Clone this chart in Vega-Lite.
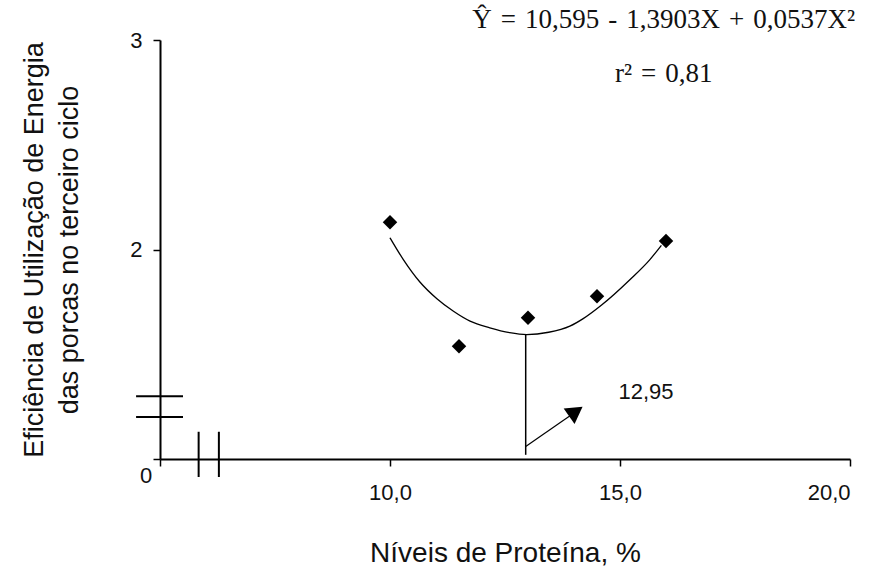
{
  "$schema": "https://vega.github.io/schema/vega-lite/v6.json",
  "width": 690,
  "height": 419,
  "autosize": {"type": "none"},
  "padding": {"left": 160, "top": 40, "right": 28, "bottom": 112},
  "background": "white",
  "config": {"view": {"stroke": null}, "font": "Liberation Sans"},
  "datasets": {
    "points": [
      {"x": 10, "y": 2.13},
      {"x": 11.5, "y": 1.538},
      {"x": 13, "y": 1.674},
      {"x": 14.5, "y": 1.777},
      {"x": 16, "y": 2.04}
    ],
    "curve": [
      {"x": 10.0, "y": 2.056},
      {"x": 10.29, "y": 1.952},
      {"x": 10.65, "y": 1.845},
      {"x": 11.02, "y": 1.765},
      {"x": 11.38, "y": 1.705},
      {"x": 11.74, "y": 1.658},
      {"x": 12.17, "y": 1.626},
      {"x": 12.6, "y": 1.603},
      {"x": 12.97, "y": 1.594},
      {"x": 13.45, "y": 1.605},
      {"x": 13.91, "y": 1.634},
      {"x": 14.2, "y": 1.67},
      {"x": 14.6, "y": 1.735},
      {"x": 15.22, "y": 1.857},
      {"x": 15.65, "y": 1.952},
      {"x": 15.9, "y": 2.02}
    ],
    "segments": [
      {"x": 12.95, "y": 1.594, "x2": 12.95, "y2": 1.02, "w": 1.5},
      {"x": 12.95, "y": 1.06, "x2": 14.0, "y2": 1.22, "w": 1.2}
    ],
    "breaks": [
      {"x": 4.48, "y": 1.3, "x2": 5.5, "y2": 1.3},
      {"x": 4.48, "y": 1.2, "x2": 5.5, "y2": 1.2},
      {"x": 5.84, "y": 1.13, "x2": 5.84, "y2": 0.914},
      {"x": 6.28, "y": 1.13, "x2": 6.28, "y2": 0.914}
    ]
  },
  "encoding": {
    "x": {
      "field": "x",
      "type": "quantitative",
      "scale": {"domain": [5, 20], "nice": false, "zero": false},
      "axis": {
        "values": [5, 10, 15, 20],
        "labelExpr": "datum.value == 5 ? '' : replace(format(datum.value, '.1f'), '.', ',')",
        "grid": false,
        "domainColor": "#000",
        "domainWidth": 2,
        "tickColor": "#000",
        "tickWidth": 1.5,
        "tickSize": 7,
        "labelFontSize": 22,
        "labelColor": "#111",
        "labelPadding": 16,
        "title": "Níveis de Proteína, %",
        "titleFontSize": 28,
        "titleFontWeight": "normal",
        "titleColor": "#111",
        "titlePadding": 36
      }
    },
    "y": {
      "field": "y",
      "type": "quantitative",
      "scale": {"domain": [1, 3], "nice": false, "zero": false},
      "axis": {
        "values": [1, 2, 3],
        "labelExpr": "datum.value == 1 ? '' : format(datum.value, 'd')",
        "grid": false,
        "domainColor": "#000",
        "domainWidth": 2,
        "tickColor": "#000",
        "tickWidth": 1.5,
        "tickSize": 7,
        "labelFontSize": 22,
        "labelColor": "#111",
        "labelPadding": 11,
        "title": ["Eficiência de Utilização de Energia", "das porcas no terceiro ciclo"],
        "titleFontSize": 27,
        "titleLineHeight": 35,
        "titleFontWeight": "normal",
        "titleColor": "#111",
        "titlePadding": 46
      }
    }
  },
  "layer": [
    {
      "data": {"name": "breaks"},
      "mark": {"type": "rule", "color": "#000", "strokeWidth": 2},
      "encoding": {"x2": {"field": "x2"}, "y2": {"field": "y2"}}
    },
    {
      "data": {"name": "curve"},
      "mark": {"type": "line", "color": "#000", "strokeWidth": 1.3, "interpolate": "monotone"},
      "encoding": {}
    },
    {
      "data": {"name": "segments"},
      "mark": {"type": "rule", "color": "#000"},
      "encoding": {
        "x2": {"field": "x2"},
        "y2": {"field": "y2"},
        "strokeWidth": {"field": "w", "type": "quantitative", "scale": null}
      }
    },
    {
      "data": {"values": [{"x": 14.04, "y": 1.227}]},
      "mark": {"type": "point", "shape": "triangle-up", "filled": true, "color": "#000", "size": 360, "angle": 55, "opacity": 1},
      "encoding": {}
    },
    {
      "data": {"name": "points"},
      "mark": {"type": "point", "shape": "diamond", "filled": true, "color": "#000", "size": 210, "opacity": 1},
      "encoding": {}
    },
    {
      "data": {"values": [{"x": 15.565, "y": 1.322, "t": "12,95"}]},
      "mark": {"type": "text", "fontSize": 22, "color": "#111", "align": "center", "baseline": "middle"},
      "encoding": {"text": {"field": "t"}}
    },
    {
      "data": {"values": [{"x": 5, "y": 1, "t": "0"}]},
      "mark": {"type": "text", "fontSize": 22, "color": "#111", "align": "center", "baseline": "middle", "dx": -14, "dy": 17},
      "encoding": {"text": {"field": "t"}}
    },
    {
      "data": {"values": [
        {"x": 15.95, "y": 3.0955, "t": "Ŷ\u2004=\u200410,595\u2004-\u20041,3903X\u2004+\u20040,0537X²"},
        {"x": 15.95, "y": 2.84, "t": "r²\u2004=\u20040,81"}
      ]},
      "mark": {"type": "text", "font": "Liberation Serif", "fontSize": 27, "color": "#111", "align": "center", "baseline": "middle"},
      "encoding": {"text": {"field": "t"}}
    }
  ]
}
